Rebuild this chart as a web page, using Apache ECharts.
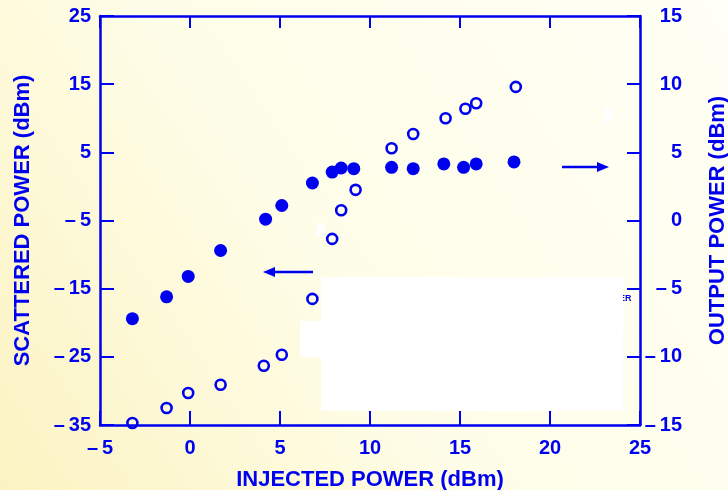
<!DOCTYPE html>
<html>
<head>
<meta charset="utf-8">
<script src="https://cdn.jsdelivr.net/npm/echarts@6/dist/echarts.min.js"></script>
<style>
html,body{margin:0;padding:0;}
#chart{width:728px;height:490px;}
</style>
</head>
<body>
<div id="chart"></div>
<script>
// Scattered power (open circles, left axis)
const injectedScattered = [-3.2, -1.3, -0.1, 1.7, 4.1, 5.1, 6.8, 7.9, 8.4, 9.2, 11.2, 12.4, 14.2, 15.3, 15.9, 18.1];
const scatteredPower   = [-34.7, -32.5, -30.3, -29.1, -26.3, -24.7, -16.5, -7.7, -3.5, -0.5, 5.6, 7.7, 10.0, 11.4, 12.2, 14.6];
// Output power (filled dots, right axis)
const injectedOutput = [-3.2, -1.3, -0.1, 1.7, 4.2, 5.1, 6.8, 7.9, 8.4, 9.1, 11.2, 12.4, 14.1, 15.2, 15.9, 18.0];
const outputPower    = [-7.2, -5.6, -4.1, -2.2, 0.1, 1.1, 2.75, 3.55, 3.85, 3.8, 3.9, 3.8, 4.15, 3.9, 4.15, 4.3];
// Axis ranges / ticks
const xRange = [-5, 25, 5];
const leftRange = [-35, 25, 10];
const rightRange = [-15, 15, 5];
const axisNames = {x: 'INJECTED POWER (dBm)', left: 'SCATTERED POWER (dBm)', right: 'OUTPUT POWER (dBm)'};

const BLUE = '#0000f0';
const FONT = 'Liberation Sans';
const fmt = v => v < 0 ? '\u2013\u2009' + Math.abs(v) : String(v);

const chart = echarts.init(document.getElementById('chart'), null, {renderer: 'canvas'});
const labelStyle = {color: BLUE, fontFamily: FONT, fontWeight: 'bold', fontSize: 20};
const nameStyle = {color: BLUE, fontFamily: FONT, fontWeight: 'bold', fontSize: 22};
const axLine = {onZero: false, lineStyle: {color: BLUE, width: 2.5}};

chart.setOption({
  animation: false,
  backgroundColor: {
    type: 'linear', x: 1, y: 0, x2: 0, y2: 1,
    colorStops: [{offset: 0, color: '#fffff6'}, {offset: 0.55, color: '#fefde8'}, {offset: 1, color: '#fcf3c2'}]
  },
  grid: {left: 100, right: 88, top: 16, bottom: 65, containLabel: false, outerBoundsMode: 'none'},
  xAxis: [{
    type: 'value', position: 'bottom', min: xRange[0], max: xRange[1], interval: xRange[2],
    name: axisNames.x, nameLocation: 'middle', nameGap: 44, nameTextStyle: nameStyle,
    axisLine: axLine,
    axisTick: {inside: true, length: 14, lineStyle: {color: BLUE, width: 2}},
    axisLabel: Object.assign({margin: 13, formatter: fmt}, labelStyle),
    splitLine: {show: false}
  }, {
    type: 'value', position: 'top', min: xRange[0], max: xRange[1], interval: xRange[2],
    axisLine: axLine,
    axisTick: {inside: true, length: 12, lineStyle: {color: BLUE, width: 2}},
    axisLabel: {show: false}, splitLine: {show: false}
  }],
  yAxis: [{
    type: 'value', position: 'left', min: leftRange[0], max: leftRange[1], interval: leftRange[2],
    name: axisNames.left, nameLocation: 'middle', nameGap: 66, nameRotate: 90, nameTextStyle: nameStyle,
    axisLine: axLine,
    axisTick: {inside: true, length: 14, lineStyle: {color: BLUE, width: 2}},
    axisLabel: Object.assign({margin: 9, formatter: fmt}, labelStyle),
    splitLine: {show: false}
  }, {
    type: 'value', position: 'right', min: rightRange[0], max: rightRange[1], interval: rightRange[2],
    name: axisNames.right, nameLocation: 'middle', nameGap: 67, nameRotate: 90, nameTextStyle: nameStyle,
    axisLine: axLine,
    axisTick: {inside: true, length: 13, lineStyle: {color: BLUE, width: 2}},
    axisLabel: Object.assign({margin: 42, align: 'right', formatter: fmt}, labelStyle),
    splitLine: {show: false}
  }],
  series: [{
    type: 'scatter', name: 'Scattered', xAxisIndex: 0, yAxisIndex: 0,
    data: injectedScattered.map((x, i) => [x, scatteredPower[i]]),
    symbol: 'circle', symbolSize: 10,
    itemStyle: {color: 'rgba(0,0,0,0)', borderColor: BLUE, borderWidth: 2.6, opacity: 1},
    emphasis: {disabled: true}, z: 3
  }, {
    type: 'scatter', name: 'Output', xAxisIndex: 0, yAxisIndex: 1,
    data: injectedOutput.map((x, i) => [x, outputPower[i]]),
    symbol: 'circle', symbolSize: 13,
    itemStyle: {color: BLUE, opacity: 1},
    emphasis: {disabled: true}, z: 3
  }],
  graphic: [
    // left-pointing arrow
    {type: 'line', shape: {x1: 272, y1: 272, x2: 313, y2: 272}, style: {stroke: BLUE, lineWidth: 2.5}, z: 10},
    {type: 'polygon', shape: {points: [[263, 272], [275, 267], [275, 277]]}, style: {fill: BLUE}, z: 10},
    // right-pointing arrow
    {type: 'line', shape: {x1: 562, y1: 167, x2: 600, y2: 167}, style: {stroke: BLUE, lineWidth: 2.5}, z: 10},
    {type: 'polygon', shape: {points: [[609, 167], [597, 162], [597, 172]]}, style: {fill: BLUE}, z: 10},
    // remnant text and white patches
    {type: 'text', left: 619, top: 294, style: {text: 'ER', fill: BLUE, font: 'bold 9px "Liberation Sans"'}, z: 10},
    {type: 'rect', shape: {x: 321, y: 277, width: 302, height: 134}, style: {fill: '#ffffff'}, z: 20},
    {type: 'rect', shape: {x: 300, y: 321, width: 22, height: 36}, style: {fill: '#ffffff'}, z: 20},
    {type: 'rect', shape: {x: 317, y: 223, width: 8, height: 14}, style: {fill: '#ffffff'}, z: 20},
    {type: 'rect', shape: {x: 604, y: 107, width: 8, height: 16}, style: {fill: '#ffffff'}, z: 20}
  ]
});
</script>
</body>
</html>
